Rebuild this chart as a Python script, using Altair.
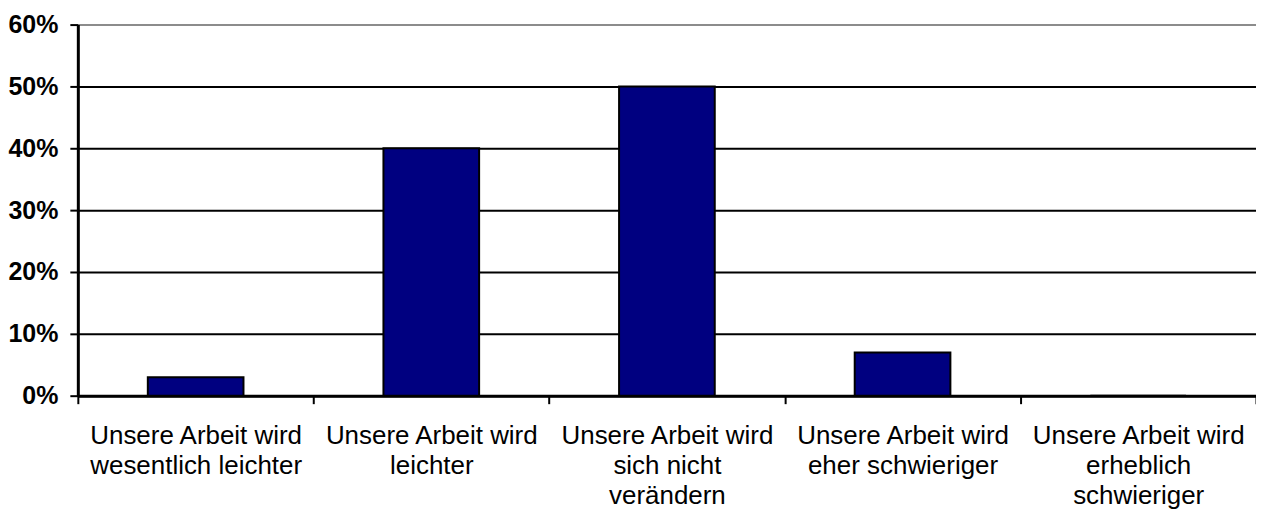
import altair as alt
import pandas as pd

# Data
label_lines = [
    ["Unsere Arbeit wird", "wesentlich leichter"],
    ["Unsere Arbeit wird", "leichter"],
    ["Unsere Arbeit wird", "sich nicht", "verändern"],
    ["Unsere Arbeit wird", "eher schwieriger"],
    ["Unsere Arbeit wird", "erheblich", "schwieriger"],
]
categories = ["|".join(l) for l in label_lines]
values = [0.03, 0.40, 0.50, 0.07, 0.00]
y_ticks = [0.0, 0.1, 0.2, 0.3, 0.4, 0.5, 0.6]

df = pd.DataFrame({"cat": categories, "val": values})

FONT = "Liberation Sans"

chart = (
    alt.Chart(df)
    .mark_bar(color="#000080", stroke="black", strokeWidth=2, width=alt.RelativeBandSize(0.406))
    .encode(
        x=alt.X(
            "cat:N",
            sort=categories,
            title=None,
            scale=alt.Scale(paddingInner=0, paddingOuter=0),
            axis=alt.Axis(
                labelAngle=0,
                labelExpr="split(datum.label, '|')",
                labelFont=FONT,
                labelFontSize=26,
                labelLineHeight=30,
                labelColor="black",
                labelLimit=0,
                labelPadding=19,
                ticks=True,
                tickBand="extent",
                tickSize=8,
                tickWidth=2,
                tickColor="black",
                domainColor="black",
                domainWidth=3,
                grid=False,
            ),
        ),
        y=alt.Y(
            "val:Q",
            title=None,
            scale=alt.Scale(domain=[0, 0.6], nice=False),
            axis=alt.Axis(
                values=y_ticks,
                format=".0%",
                labelFont=FONT,
                labelFontSize=25,
                labelFontWeight="bold",
                labelColor="black",
                labelPadding=12,
                tickSize=8,
                tickWidth=2,
                tickColor="black",
                domainColor="black",
                domainWidth=3,
                grid=True,
                gridWidth=2,
                gridColor={"condition": {"test": "datum.value >= 0.6", "value": "#8c8c8c"}, "value": "black"},
            ),
        ),
    )
    .properties(
        width=1181,
        height=372,
        autosize=alt.AutoSizeParams(type="none"),
        padding={"left": 70, "top": 16, "right": 0, "bottom": 125},
    )
    .configure_view(stroke="#8c8c8c", strokeWidth=2)
    .configure(background="white")
)

chart.save("out.html", embed_options={"renderer": "svg", "actions": False})
